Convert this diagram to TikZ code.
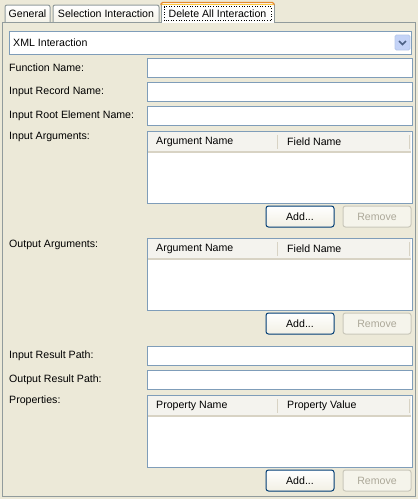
\documentclass[tikz,border=0pt]{standalone}
\usepackage{fontspec}
\setmainfont{Liberation Sans}
\usetikzlibrary{positioning}

\definecolor{panelbg}{HTML}{ECE9D8}
\definecolor{panelgray}{HTML}{919B9C}
\definecolor{fieldblue}{HTML}{7F9DB9}
\definecolor{btnblue}{HTML}{003C74}
\definecolor{btngray}{HTML}{C9C7BA}
\definecolor{btntext}{HTML}{ACA899}
\definecolor{hdrfill}{HTML}{F4F3EE}
\definecolor{hdrshade}{HTML}{D8D3C4}
\definecolor{tabhot}{HTML}{E68B2C}
\definecolor{tabhotlite}{HTML}{FFC73C}
\definecolor{arrowfill}{HTML}{C4D3F7}
\definecolor{arrowdark}{HTML}{4D6185}

\tikzset{
  uifont/.style={font=\fontsize{10.6}{12}\selectfont},
  lbl/.style={uifont, anchor=west, inner sep=0pt},
  field/.style={draw=fieldblue, fill=white, line width=1pt, inner sep=0pt, outer sep=0pt,
    minimum width=265pt, minimum height=19pt, anchor=north west},
  tablebox/.style={field, minimum height=72pt},
  hdrbox/.style={fill=hdrfill, inner sep=0pt, outer sep=0pt,
    minimum width=263pt, minimum height=19pt, anchor=north west},
  hdrline/.style={hdrshade, line width=2pt},
  divider/.style={hdrshade, line width=1pt},
  addbtn/.style={uifont, draw=btnblue, line width=1pt, rounded corners=2.5pt,
    top color=white, bottom color=panelbg!70!white, minimum width=68pt, minimum height=21pt, inner sep=0pt},
  rembtn/.style={uifont, draw=btngray, line width=1pt, rounded corners=2.5pt, text=btntext,
    fill=panelbg!50!white, minimum width=68pt, minimum height=21pt, inner sep=0pt},
  tabbox/.style={draw=panelgray, line width=1pt, top color=white, bottom color=panelbg!60!white},
}

\begin{document}
\begin{tikzpicture}[x=1pt,y=-1pt]
\fill[panelbg] (0,0) rectangle (418,499);

\draw[tabbox, rounded corners=2pt] (5,22) -- (5,5) -- (50,5) -- (50,22);
\node[uifont, inner sep=0pt] (tabgeneral) at (27.5,14) {General};
\draw[tabbox, rounded corners=2pt] (53,22) -- (53,5) -- (159,5) -- (159,22);
\node[uifont, inner sep=0pt] (tabselect) at (106,14) {Selection Interaction};
\fill[white!60!panelbg!20!white] (161,3) rectangle (274,23);
\draw[panelgray, line width=1pt] (161,23) -- (161,4) (274,4) -- (274,23);
\draw[tabhot, line width=1.2pt, rounded corners=1.5pt] (161,5) -- (161,2.5) -- (274,2.5) -- (274,5);
\draw[tabhotlite, line width=1pt] (162,4) -- (273,4);
\node[uifont, inner sep=0pt] (tabdelete) at (217.5,13.5) {Delete All Interaction};
\draw[black, dotted, line width=0.6pt] (164,6.5) rectangle (271,20.5);
\draw[panelgray, line width=1pt] (161,22) -- (2.5,22) -- (2.5,496.5) -- (415.5,496.5) -- (415.5,22) -- (274,22);

\node[field, minimum width=402pt, minimum height=23pt] (combo) at (9,31) {};
\node[lbl] (combotext) at (13,42.5) {XML Interaction};
\node[draw=arrowfill!80!fieldblue, fill=arrowfill, rounded corners=1.5pt, line width=0.8pt,
    minimum width=15pt, minimum height=15pt, inner sep=0pt] (combobtn) at (402.5,42.5) {};
\draw[arrowdark, line width=1.6pt] ([xshift=-3.5pt, yshift=1.5pt]combobtn.center) -- ([yshift=-2pt]combobtn.center) -- ([xshift=3.5pt, yshift=1.5pt]combobtn.center);

\node[lbl] (fnlabel) at (9,68) {Function Name:};
\node[field] (fnfield) at (147,58) {};
\node[lbl] (reclabel) at (9,92) {Input Record Name:};
\node[field] (recfield) at (147,82) {};
\node[lbl] (rootlabel) at (9,116) {Input Root Element Name:};
\node[field] (rootfield) at (147,106) {};

\node[lbl] (inargslabel) at (9,137) {Input Arguments:};
\node[tablebox] (inargs) at (147,131) {};
\node[hdrbox] (inhdr) at (148,132) {};
\draw[hdrline] ([yshift=-1pt]inhdr.south west) -- ([yshift=-1pt]inhdr.south east);
\draw[divider] (277.5,135) -- (277.5,149) (409.5,135) -- (409.5,149);
\node[lbl] (inargname) at (156,141.5) {Argument Name};
\node[lbl] (infieldname) at (287,141.5) {Field Name};
\node[addbtn] (inadd) at (300,216.5) {Add...};
\node[rembtn] (inremove) at (377,216.5) {Remove};

\node[lbl] (outargslabel) at (9,245) {Output Arguments:};
\node[tablebox] (outargs) at (147,238) {};
\node[hdrbox] (outhdr) at (148,239) {};
\draw[hdrline] ([yshift=-1pt]outhdr.south west) -- ([yshift=-1pt]outhdr.south east);
\draw[divider] (277.5,242) -- (277.5,256) (409.5,242) -- (409.5,256);
\node[lbl] (outargname) at (156,248.5) {Argument Name};
\node[lbl] (outfieldname) at (287,248.5) {Field Name};
\node[addbtn] (outadd) at (300,323.5) {Add...};
\node[rembtn] (outremove) at (377,323.5) {Remove};

\node[lbl] (inreslabel) at (9,356) {Input Result Path:};
\node[field] (inresfield) at (147,346) {};
\node[lbl] (outreslabel) at (9,380) {Output Result Path:};
\node[field] (outresfield) at (147,370) {};

\node[lbl] (propslabel) at (9,401) {Properties:};
\node[tablebox] (props) at (147,395) {};
\node[hdrbox] (prophdr) at (148,396) {};
\draw[hdrline] ([yshift=-1pt]prophdr.south west) -- ([yshift=-1pt]prophdr.south east);
\draw[divider] (277.5,399) -- (277.5,413) (409.5,399) -- (409.5,413);
\node[lbl] (propname) at (156,405.5) {Property Name};
\node[lbl] (propvalue) at (287,405.5) {Property Value};
\node[addbtn] (propadd) at (300,480.5) {Add...};
\node[rembtn] (propremove) at (377,480.5) {Remove};
\end{tikzpicture}
\end{document}
